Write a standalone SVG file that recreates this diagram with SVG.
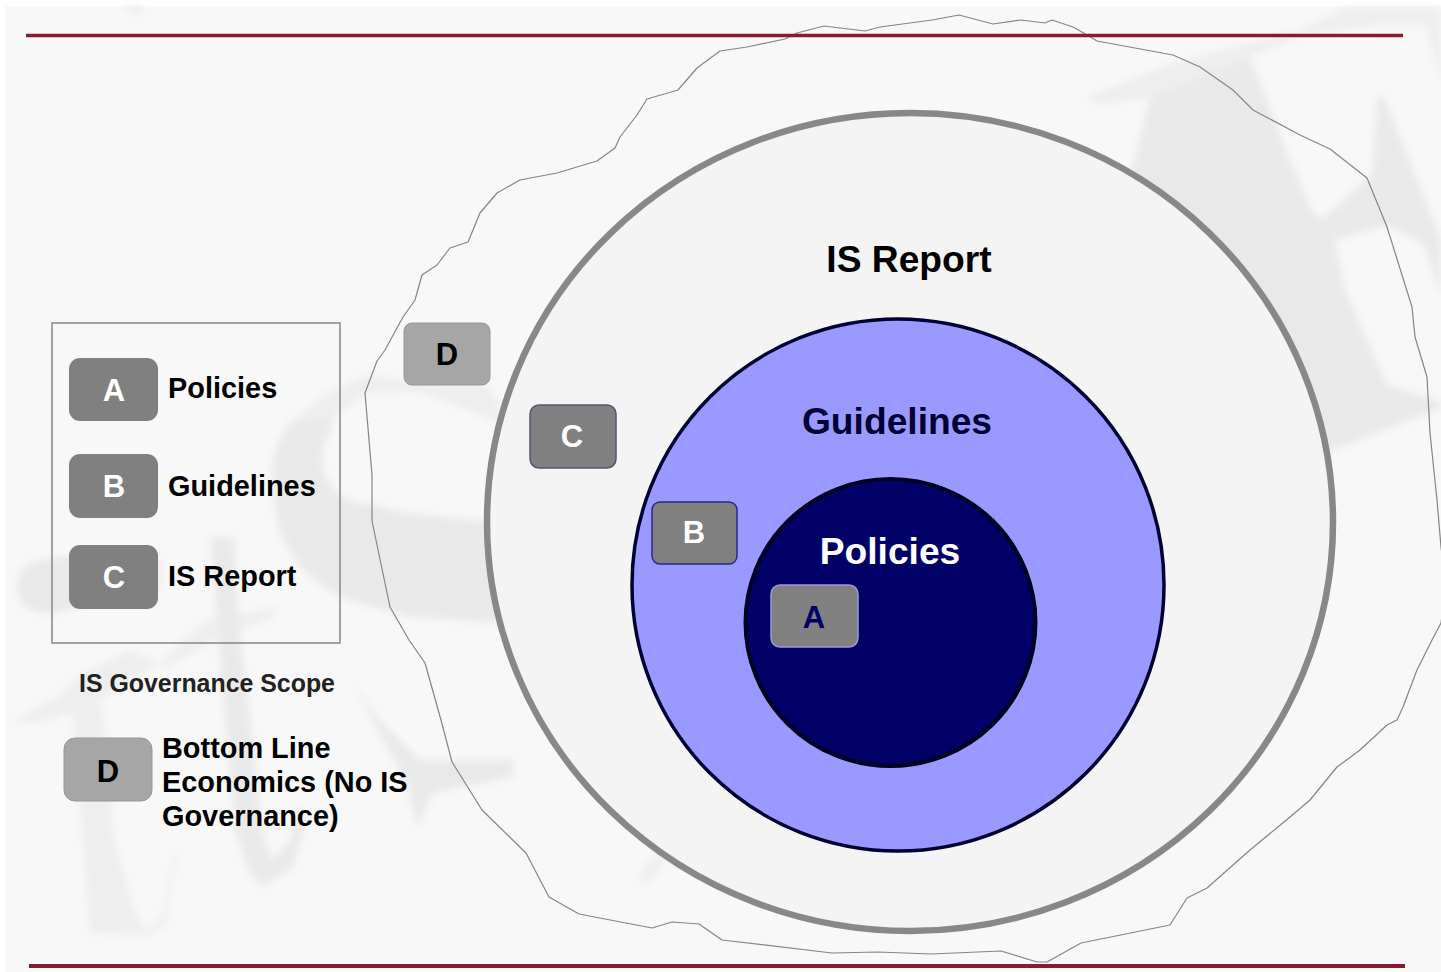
<svg xmlns="http://www.w3.org/2000/svg" width="1441" height="972" viewBox="0 0 1441 972">
<style>
text{font-family:"Liberation Sans",Arial,sans-serif;font-weight:bold;fill:#000}
.wm{fill:#e9e9e9;stroke:none}
.wp{fill:#eeeeee;stroke:none}
.leg{font-size:28.900px}
.big{font-size:37.200px}
.ltr{font-size:31px;text-anchor:middle}
.dark{fill:#808080}
.light{fill:#a6a6a6;stroke:#989898;stroke-width:1}
.red{stroke:#8a1a30;fill:none}
</style>
<defs><filter id="soft" x="-5%" y="-5%" width="110%" height="110%"><feGaussianBlur stdDeviation="3.500"/></filter></defs>
<rect width="1441" height="972" fill="#fff"/>
<rect x="5" y="6" width="1436" height="966" fill="#f8f8f8"/>
<g id="watermark" filter="url(#soft)">
<path class="wm" d="M122 7L142 7L140 15Z"/>
<path class="wp" d="M1087 97L1173 63L1300 30L1345 8L1441 8L1441 25L1380 25L1300 36L1250 57L1150 97L1100 105Z"/>
<path class="wm" d="M1150 97L1250 57L1290 160L1313 213L1323 218L1372 175L1377 97L1384 97L1441 240L1441 295L1424 245L1388 225L1335 240L1345 290L1387 385L1441 402L1441 408L1333 450L1270 470L1100 300Z"/>
<path class="wp" d="M1422 8L1441 8L1441 85Z"/>
<path class="wp" d="M500 407L490 387L403 380L367 375L327 393L290 423L285 445L330 440L333 417L370 393L420 392L500 423Z"/>
<path class="wm" d="M290 423C275 445 270 460 273 477C273 500 276 520 280 533C288 550 295 560 303 570C320 585 335 595 347 600L410 617L500 623L500 523L410 513L347 500C333 490 326 480 323 467C322 450 327 430 333 417Z"/>
<path class="wm" d="M40 560C20 565 12 580 20 600C28 612 40 615 60 612L160 590L160 560L70 556Z"/>
<path class="wp" d="M160 663L205 620L277 607L272 618L215 640L165 668Z"/>
<path class="wm" d="M210 537L234 537L240 633L252 733L262 833L272 860L290 840L300 800L303 833L293 867L263 887L248 870L236 833L226 733L218 633Z"/>
<path class="wp" d="M10 723L60 695L77 677L130 650L160 663L100 700L103 713L113 833L133 907L147 933L163 913L173 857L177 853L165 925L150 935L90 933L77 767L73 713L40 722Z"/>
<path class="wm" d="M353 683L377 717L420 760L513 760L513 777L433 793L417 827L407 783L383 740Z"/>
<path class="wp" d="M640 885L645 865L665 850L668 858L650 880Z"/>
</g>
<g id="connectors">
<path id="outline" fill="none" stroke="#858585" stroke-width="1.200" stroke-linejoin="round" d="M720 51L747 47L785 39L797 33L824 26L865 31L880 27L932 20L959 15L993 24L1021 20L1045 23L1052 20L1073 27L1087 35L1097 41L1173 55L1200 67L1233 90L1253 110L1300 135L1330 149L1367 178L1387 227L1412 307L1415 337L1427 377L1430 433L1437 500L1441 547L1446 585L1441 623L1432 640L1417 670L1403 707L1397 720L1387 725L1360 750L1337 767L1310 800L1290 817L1250 850L1207 888L1187 898L1170 925L1081 943L1047 962L1037 962L1001 951L931 954L878 952L832 953L722 940L699 924L672 922L652 928L579 914L549 897L526 853L482 810L452 762L441 720L425 663L409 640L390 607L372 521L372 475L365 393L377 361L385 350L403 317L415 300L422 275L437 265L450 248L468 242L480 213L497 193L520 180L557 173L597 161L615 148L620 137L637 115L647 99L678 90L697 68Z"/>
<line class="red" x1="26" y1="35.500" x2="1403" y2="35.500" stroke-width="3.500"/>
<line class="red" x1="29" y1="966" x2="1405" y2="966" stroke-width="4"/>
</g>
<g id="circle-report"><ellipse cx="910" cy="522" rx="423" ry="409" fill="#f4f4f4" stroke="#888" stroke-width="6.500"/><text class="big" x="909" y="272" text-anchor="middle">IS Report</text></g>
<g id="circle-guidelines"><ellipse cx="898" cy="585" rx="266" ry="266" fill="#9999ff" stroke="#000033" stroke-width="3.500"/><text class="big" x="897" y="434" text-anchor="middle" style="fill:#000033">Guidelines</text></g>
<g id="circle-policies"><ellipse cx="890.500" cy="622.500" rx="145" ry="143.500" fill="#000066" stroke="#000022" stroke-width="4"/><text class="big" x="890" y="564" text-anchor="middle" style="fill:#fff">Policies</text></g>
<g id="legend-box"><rect x="52" y="323" width="288" height="320" fill="none" stroke="#858585" stroke-width="1.500"/></g>
<g id="legend-a"><rect class="dark" x="69" y="358" width="89" height="63" rx="11"/><text class="ltr" x="114" y="401" style="fill:#fff">A</text><text class="leg" x="168" y="398">Policies</text></g>
<g id="legend-b"><rect class="dark" x="69" y="454" width="89" height="64" rx="11"/><text class="ltr" x="114" y="497" style="fill:#fff">B</text><text class="leg" x="168" y="496">Guidelines</text></g>
<g id="legend-c"><rect class="dark" x="69" y="545" width="89" height="64" rx="11"/><text class="ltr" x="114" y="588" style="fill:#fff">C</text><text class="leg" x="168" y="586">IS Report</text></g>
<g id="scope-label"><text x="207" y="692" text-anchor="middle" style="font-size:24.900px;fill:#222">IS Governance Scope</text></g>
<g id="legend-d"><rect class="light" x="64" y="738" width="88" height="63" rx="11"/><text class="ltr" x="108" y="782">D</text><text class="leg" x="162" y="758">Bottom Line</text><text class="leg" x="162" y="792">Economics (No IS</text><text class="leg" x="162" y="826">Governance)</text></g>
<g id="marker-d"><rect class="light" x="404" y="323" width="86" height="62" rx="8"/><text class="ltr" x="447" y="365">D</text></g>
<g id="marker-c"><rect x="530" y="405" width="86" height="63" rx="9" fill="#808080" stroke="#55556f" stroke-width="1.500"/><text class="ltr" x="572" y="447" style="fill:#fff">C</text></g>
<g id="marker-b"><rect x="652" y="502" width="85" height="62" rx="8" fill="#808080" stroke="#2a2a80" stroke-width="1.500"/><text class="ltr" x="694" y="543" style="fill:#fff">B</text></g>
<g id="marker-a"><rect x="771" y="585" width="87" height="62" rx="9" fill="#808080" stroke="#9a9ad8" stroke-width="1.500"/><text class="ltr" x="814" y="628" style="fill:#000066">A</text></g>
</svg>
